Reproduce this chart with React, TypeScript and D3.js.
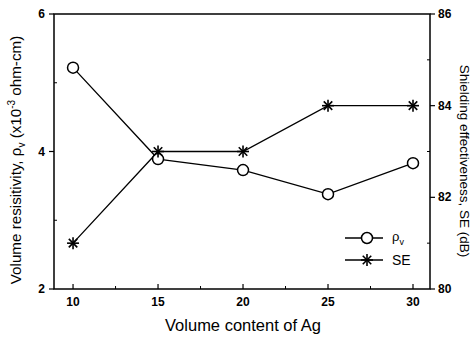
import React from "react";
import * as d3 from "d3";

const contents = [10, 15, 20, 25, 30];
const resistivity = [5.22, 3.89, 3.73, 3.38, 3.83];
const shielding = [81, 83, 83, 84, 84];
const xTicks = [10, 15, 20, 25, 30];
const leftTicks = [2, 4, 6];
const rightTicks = [80, 82, 84, 86];

const W = 474;
const H = 343;
const m = { left: 54, right: 44, top: 14, bottom: 54 };
const font = "Liberation Sans, Arial, sans-serif";

const Star = ({ x, y, r }: { x: number; y: number; r: number }) => {
  const angles = [0, 45, 90, 135];
  return (
    <g stroke="#000" strokeWidth={1.6}>
      {angles.map(a => {
        const rad = (a * Math.PI) / 180;
        const dx = Math.cos(rad) * r;
        const dy = Math.sin(rad) * r;
        return <line key={a} x1={x - dx} y1={y - dy} x2={x + dx} y2={y + dy} />;
      })}
    </g>
  );
};

export default function App() {
  const x = d3.scaleLinear().domain([8.88, 31]).range([m.left, W - m.right]);
  const yL = d3.scaleLinear().domain([2, 6]).range([H - m.bottom, m.top]);
  const yR = d3.scaleLinear().domain([80, 86]).range([H - m.bottom, m.top]);

  const lineL = d3
    .line<number>()
    .x((_, i) => x(contents[i]))
    .y(d => yL(d));
  const lineR = d3
    .line<number>()
    .x((_, i) => x(contents[i]))
    .y(d => yR(d));

  const bottom = H - m.bottom;
  const right = W - m.right;
  const minorX = d3.range(12.5, 30, 5);
  const minorL = [3, 5];
  const minorR = [81, 83, 85];

  return (
    <svg width={W} height={H} style={{ position: "absolute", left: 0, top: 0 }} fontFamily={font}>
      <rect width={W} height={H} fill="#fff" />
      <rect
        x={m.left}
        y={m.top}
        width={right - m.left}
        height={bottom - m.top}
        fill="none"
        stroke="#000"
        strokeWidth={1.5}
      />
      {/* bottom ticks */}
      {xTicks.map(t => (
        <g key={t}>
          <line x1={x(t)} x2={x(t)} y1={bottom} y2={bottom - 5} stroke="#000" strokeWidth={1.2} />
          <text x={x(t)} y={bottom + 17} textAnchor="middle" fontSize={12} fontWeight="bold">
            {t}
          </text>
        </g>
      ))}
      {minorX.map(t => (
        <line key={t} x1={x(t)} x2={x(t)} y1={bottom} y2={bottom - 3} stroke="#000" />
      ))}
      {/* left ticks */}
      {leftTicks.map(t => (
        <g key={t}>
          <line x1={m.left - 5} x2={m.left} y1={yL(t)} y2={yL(t)} stroke="#000" strokeWidth={1.2} />
          <text x={m.left - 9} y={yL(t) + 4} textAnchor="end" fontSize={12} fontWeight="bold">
            {t}
          </text>
        </g>
      ))}
      {minorL.map(t => (
        <line key={t} x1={m.left} x2={m.left + 3} y1={yL(t)} y2={yL(t)} stroke="#000" />
      ))}
      {/* right ticks */}
      {rightTicks.map(t => (
        <g key={t}>
          <line x1={right} x2={right + 5} y1={yR(t)} y2={yR(t)} stroke="#000" strokeWidth={1.2} />
          <text x={right + 8} y={yR(t) + 4} textAnchor="start" fontSize={12} fontWeight="bold">
            {t}
          </text>
        </g>
      ))}
      {minorR.map(t => (
        <line key={t} x1={right - 3} x2={right} y1={yR(t)} y2={yR(t)} stroke="#000" />
      ))}
      {/* series */}
      <path d={lineL(resistivity) || ""} fill="none" stroke="#000" strokeWidth={1.3} />
      <path d={lineR(shielding) || ""} fill="none" stroke="#000" strokeWidth={1.3} />
      {resistivity.map((v, i) => (
        <circle key={i} cx={x(contents[i])} cy={yL(v)} r={5.5} fill="#fff" stroke="#000" strokeWidth={1.5} />
      ))}
      {shielding.map((v, i) => (
        <Star key={i} x={x(contents[i])} y={yR(v)} r={6} />
      ))}
      {/* legend */}
      <line x1={345} x2={383} y1={238} y2={238} stroke="#000" strokeWidth={1.3} />
      <circle cx={367} cy={238} r={5.5} fill="#fff" stroke="#000" strokeWidth={1.5} />
      <text x={392} y={241} fontSize={13}>
        ρ<tspan fontSize={9} dy={4}>v</tspan>
      </text>
      <line x1={345} x2={383} y1={260} y2={260} stroke="#000" strokeWidth={1.3} />
      <Star x={367} y={260} r={6} />
      <text x={392} y={265} fontSize={14}>
        SE
      </text>
      {/* axis titles */}
      <text x={243} y={331} textAnchor="middle" fontSize={16.5}>
        Volume content of Ag
      </text>
      <text transform={`translate(21,160) rotate(-90)`} textAnchor="middle" fontSize={15.2}>
        Volume resisitivity, ρ<tspan fontSize={10} dy={4}>v</tspan>
        <tspan dy={-4}> (x10</tspan>
        <tspan fontSize={10} dy={-6}>-3</tspan>
        <tspan dy={6}> ohm-cm)</tspan>
      </text>
      <text transform={`translate(460,161) rotate(90)`} textAnchor="middle" fontSize={13.5}>
        Shielding effectiveness, SE (dB)
      </text>
    </svg>
  );
}
